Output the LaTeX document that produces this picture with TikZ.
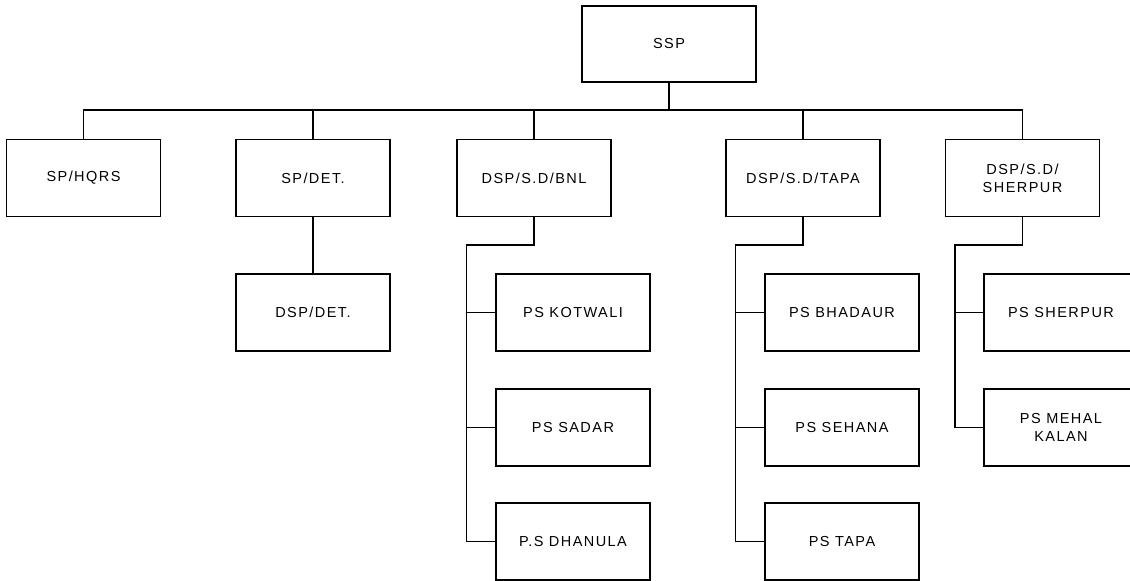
\documentclass[tikz,border=0pt]{standalone}
\usepackage{fontspec}
\setmainfont{Liberation Sans}[LetterSpace=10]
\begin{document}
\begin{tikzpicture}[x=1pt,y=-1pt,
  box/.style={draw,line width=1.3pt,minimum width=154pt,minimum height=77pt,
    inner sep=0pt,align=center,font=\fontsize{14.5}{18}\selectfont},
  link/.style={line width=1.3pt}]
\useasboundingbox (0,0) rectangle (1130,581);
% top level
\node[box,minimum width=174pt,minimum height=76pt] (ssp) at (669,44) {SSP};
\coordinate (bar) at (0,110);
% second level
\node[box] (hqrs) at (83.5,178) {SP/HQRS};
\node[box] (spdet) at (313,178) {SP/DET.};
\node[box] (bnl) at (534,178) {DSP/S.D/BNL};
\node[box] (tapa) at (803,178) {DSP/S.D/TAPA};
\node[box] (sherpur) at (1022.5,178) {DSP/S.D/\\SHERPUR};
% third level
\node[box] (dspdet) at (313,312.5) {DSP/DET.};
\node[box] (kotwali) at (573,312.5) {PS KOTWALI};
\node[box] (sadar) at (573,427.5) {PS SADAR};
\node[box] (dhanula) at (573,541.5) {P.S DHANULA};
\node[box] (bhadaur) at (842,312.5) {PS BHADAUR};
\node[box] (sehana) at (842,427.5) {PS SEHANA};
\node[box] (pstapa) at (842,541.5) {PS TAPA};
\node[box] (pssherpur) at (1061,312.5) {PS SHERPUR};
\node[box] (mehal) at (1061,427.5) {PS MEHAL\\KALAN};
% connectors
\draw[link] (ssp.south) -- (ssp.south |- bar);
\foreach \n in {hqrs,spdet,bnl,tapa,sherpur}
  \draw[link] (\n.north) |- (ssp.south |- bar);
\draw[link] (spdet.south) -- (dspdet.north);
\foreach \p/\last in {bnl/dhanula,tapa/pstapa,sherpur/mehal}{
  \coordinate (\p k) at ([xshift=10pt]\p.south west);
  \draw[link] (\p.south) -- (\p.south |- 0,245) -- (\p k |- 0,245) -- (\p k |- \last.west);
}
\foreach \c/\p in {kotwali/bnl,sadar/bnl,dhanula/bnl,bhadaur/tapa,sehana/tapa,pstapa/tapa,pssherpur/sherpur,mehal/sherpur}
  \draw[link] (\c.west) -- (\c.west -| \p k);
\end{tikzpicture}
\end{document}
